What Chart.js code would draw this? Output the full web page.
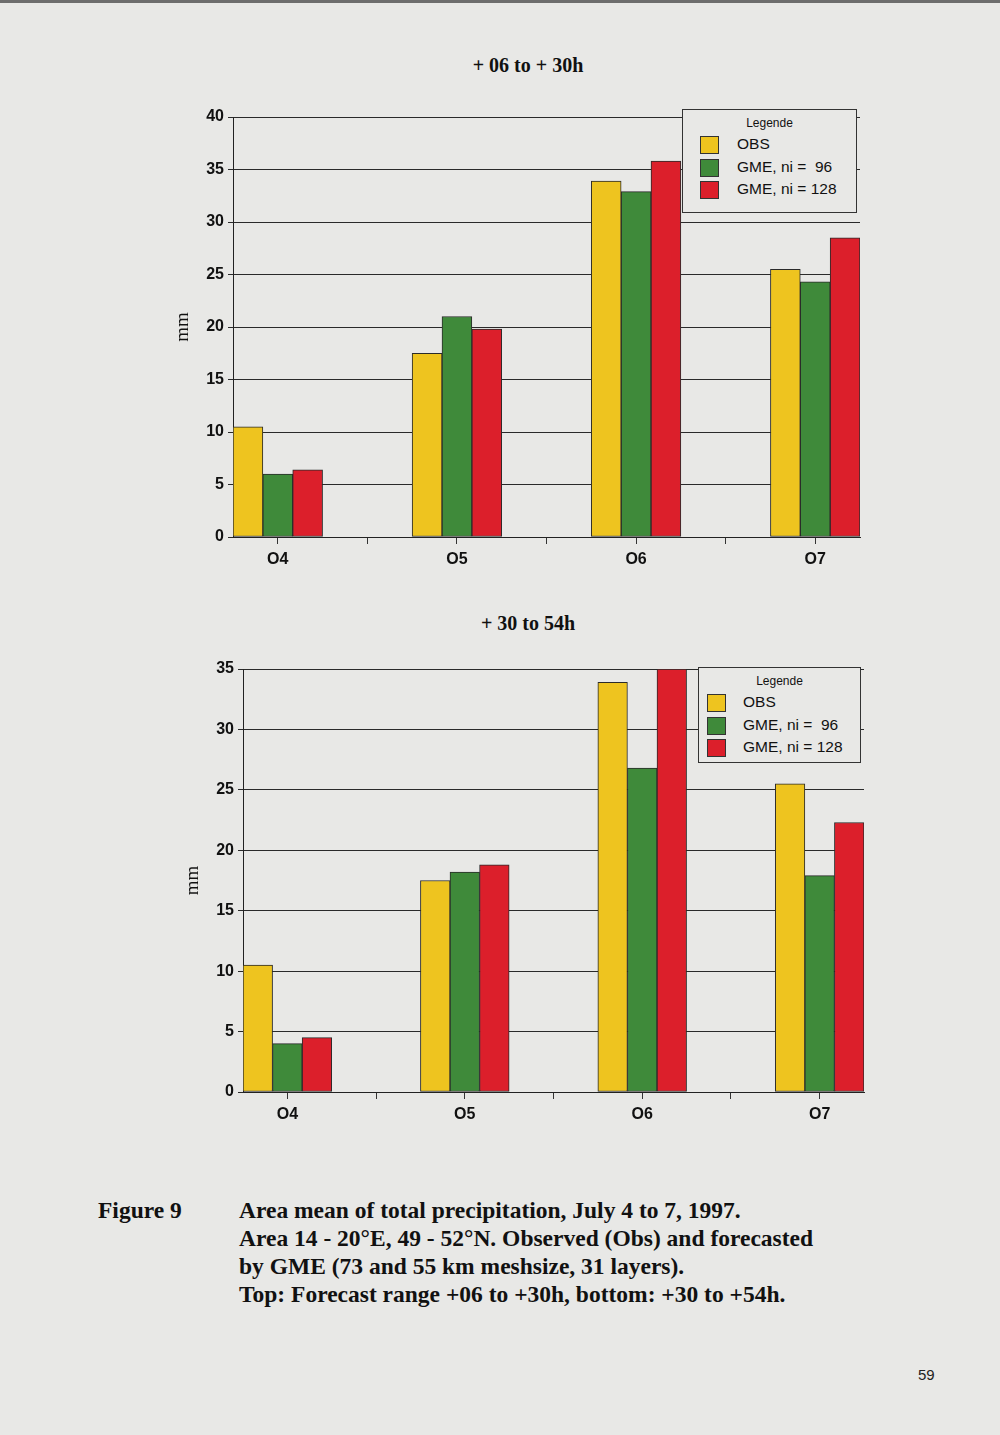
<!DOCTYPE html>
<html>
<head>
<meta charset="utf-8">
<script src="https://cdn.jsdelivr.net/npm/chart.js@4"></script>
<style>
  html, body { margin: 0; padding: 0; }
  body { width: 1000px; height: 1435px; background: #e8e8e6; position: relative; overflow: hidden; }
  .topline { position: absolute; left: 0; top: 0; width: 1000px; height: 3px; background: #6d6d6d; }
  .title { position: absolute; left: 0; width: 1056px; text-align: center;
           font: bold 20px "Liberation Serif", serif; color: #111; }
  .box { position: absolute; }
  .legend { position: absolute; border: 1px solid #333; background: #e8e8e6; box-sizing: border-box;
            font-family: "Liberation Sans", Arial, sans-serif; color: #111; }
  .legend .head { text-align: center; font-size: 12px; margin-top: 6px; margin-bottom: 5px; }
  .legend .row { position: relative; height: 22.5px; }
  .legend .sw { position: absolute; width: 19px; height: 18px; border: 1px solid #333; box-sizing: border-box; top: 1px; }
  .legend .lb { position: absolute; font-size: 15.5px; white-space: pre; top: 0px; }
  .caption { position: absolute; font: bold 23.5px "Liberation Serif", serif; color: #111; line-height: 28px; }
  .page { position: absolute; left: 918px; top: 1366px; font: 15px "Liberation Sans", Arial, sans-serif; color: #222; }
</style>
</head>
<body>
<div class="topline"></div>

<div class="title" style="top:54px">+ 06 to + 30h</div>
<div class="box" style="left:150px; top:100px; width:730px; height:480px"><canvas id="chartTop"></canvas></div>
<div class="legend" id="legendTop" style="left:682px; top:109px; width:175px; height:104px"></div>

<div class="title" style="top:612px">+ 30 to 54h</div>
<div class="box" style="left:160px; top:650px; width:730px; height:480px"><canvas id="chartBot"></canvas></div>
<div class="legend" id="legendBot" style="left:698px; top:667px; width:163px; height:96px"></div>

<div class="caption" style="left:98px; top:1196px">Figure 9</div>
<div class="caption" style="left:239px; top:1196px">
Area mean of total precipitation, July 4 to 7, 1997.<br>
Area 14 - 20°E, 49 - 52°N. Observed (Obs) and forecasted<br>
by GME (73 and 55 km meshsize, 31 layers).<br>
Top: Forecast range +06 to +30h, bottom: +30 to +54h.
</div>
<div class="page">59</div>

<script>
// categories (days in July) and series names
const categories = ["O4", "O5", "O6", "O7"];
const seriesNames = ["OBS", "GME, ni =  96", "GME, ni = 128"];
const seriesColors = ["#eec41f", "#3f8a3a", "#dc1f2b"];

// + 06 to + 30h
const obsTop    = [10.5, 17.5, 33.9, 25.5];
const gme96Top  = [6.0, 21.0, 32.9, 24.3];
const gme128Top = [6.4, 19.8, 35.8, 28.5];

// + 30 to 54h
const obsBot    = [10.5, 17.5, 33.9, 25.5];
const gme96Bot  = [4.0, 18.2, 26.8, 17.9];
const gme128Bot = [4.5, 18.8, 35.0, 22.3];

const yMaxTop = 40;
const yMaxBot = 35;
const yStep = 5;

const tickFont = { family: "Liberation Sans", size: 16, weight: "bold" };

function makeChart(id, series, yMax, pad, xAxisH) {
    return new Chart(document.getElementById(id), {
        type: "bar",
        data: {
            datasets: series.map((vals, i) => ({
                label: seriesNames[i],
                data: vals.map((v, j) => ({ x: j, y: v })),
                backgroundColor: seriesColors[i],
                borderColor: "#2a2a2a",
                borderWidth: 1,
                borderSkipped: false,
                categoryPercentage: 1.0,
                barPercentage: 1.0
            }))
        },
        options: {
            responsive: true,
            maintainAspectRatio: false,
            animation: false,
            layout: { padding: pad },
            plugins: { legend: { display: false }, tooltip: { enabled: false } },
            scales: {
                x: {
                    type: "linear",
                    offset: false,
                    min: -0.25,
                    max: categories.length - 0.75,
                    // ticks at each category centre and between them
                    afterBuildTicks: s => {
                        s.ticks = [];
                        for (let v = 0; v <= categories.length - 1; v += 0.5) s.ticks.push({ value: v });
                    },
                    afterFit: s => { s.height = xAxisH; },
                    border: { display: true, color: "#222", width: 1 },
                    grid: { display: true, offset: false, drawOnChartArea: false, drawTicks: true, tickLength: 7, color: "#333" },
                    ticks: {
                        autoSkip: false,
                        maxRotation: 0,
                        padding: 6,
                        color: "#111",
                        font: tickFont,
                        callback: v => Number.isInteger(v) ? categories[v] : ""
                    }
                },
                y: {
                    min: 0,
                    max: yMax,
                    afterFit: s => { s.width = 83; },
                    border: { display: true, color: "#222", width: 1 },
                    grid: { color: "#2a2a2a", lineWidth: 1, tickLength: 5 },
                    ticks: { stepSize: yStep, padding: 4, color: "#111", font: tickFont },
                    title: {
                        display: true, text: "mm", color: "#111",
                        padding: { top: 22, bottom: 0 },
                        font: { family: "Liberation Serif", size: 19 }
                    }
                }
            }
        }
    });
}

function buildLegend(id, swLeft, txtLeft) {
    let el = document.getElementById(id);
    let html = '<div class="head">Legende</div>';
    seriesNames.forEach((n, i) => {
        html += `<div class="row"><div class="sw" style="left:${swLeft}px;background:${seriesColors[i]}"></div>` +
                `<div class="lb" style="left:${txtLeft}px">${n}</div></div>`;
    });
    el.innerHTML = html;
}

makeChart("chartTop", [obsTop, gme96Top, gme128Top], yMaxTop, { top: 17, right: 20 }, 43);
makeChart("chartBot", [obsBot, gme96Bot, gme128Bot], yMaxBot, { top: 19, right: 26 }, 38);

buildLegend("legendTop", 17, 54);
buildLegend("legendBot", 8, 44);
</script>
</body>
</html>
